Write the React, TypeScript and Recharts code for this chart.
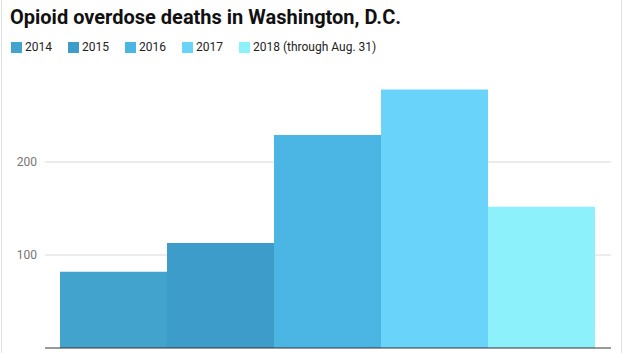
import React from 'react';
import { BarChart, Bar, XAxis, YAxis, CartesianGrid, Legend, ReferenceLine } from 'recharts';

const title = 'Opioid overdose deaths in Washington, D.C.';
const seriesNames = ['2014', '2015', '2016', '2017', '2018 (through Aug. 31)'];
const seriesKeys = ['y2014', 'y2015', 'y2016', 'y2017', 'y2018'];
const deaths = [82, 113, 229, 278, 152];
const colors = ['#42A3CD', '#3D9CC9', '#4BB6E3', '#69D3FA', '#8DF1FC'];
const yTicks = [100, 200];
const yDomain = [0, 300];

const row: Record<string, number | string> = { name: 'Deaths' };
seriesKeys.forEach((k, i) => {
  row[k] = deaths[i];
});
const data = [row];

const renderLegend = () => (
  <div
    style={{
      display: 'flex',
      height: 20,
      alignItems: 'center',
      fontFamily: 'Roboto, sans-serif',
      fontSize: 12,
      color: '#222',
      whiteSpace: 'nowrap',
    }}
  >
    {seriesNames.map((n, i) => (
      <div key={n} style={{ display: 'flex', alignItems: 'center', marginRight: 16 }}>
        <span
          style={{ width: 11, height: 11, background: colors[i], marginRight: 3, display: 'inline-block' }}
        />
        <span>{n}</span>
      </div>
    ))}
  </div>
);

export default function App() {
  return (
    <div
      style={{
        position: 'absolute',
        left: 0,
        top: 0,
        width: 628,
        height: 353,
        background: '#fff',
        overflow: 'hidden',
      }}
    >
      <div style={{ position: 'absolute', left: 1, top: 0, width: 1, height: 353, background: '#e3e3e3' }} />
      <div style={{ position: 'absolute', left: 621, top: 0, width: 1, height: 353, background: '#e3e3e3' }} />
      <div
        style={{
          position: 'absolute',
          left: 10,
          top: 5,
          fontFamily: 'Roboto, sans-serif',
          fontWeight: 700,
          fontSize: 20,
          color: '#111',
          whiteSpace: 'nowrap',
        }}
      >
        {title}
      </div>
      <BarChart
        width={628}
        height={353}
        data={data}
        margin={{ top: 49, right: 17, bottom: 5, left: 0 }}
        barCategoryGap={15}
        barGap={0}
      >
        <Legend
          verticalAlign="top"
          align="left"
          content={renderLegend}
          wrapperStyle={{ top: 37, left: 11, width: 'auto' }}
        />
        <CartesianGrid
          vertical={false}
          stroke="#d9d9d9"
          horizontalValues={yTicks}
        />
        <XAxis dataKey="name" hide />
        <YAxis
          width={45}
          domain={yDomain}
          ticks={yTicks}
          axisLine={false}
          tickLine={false}
          tickSize={0}
          tickMargin={8}
          tick={{ fill: '#757575', fontSize: 12, fontFamily: 'Roboto, sans-serif' }}
        />
        {seriesKeys.map((k, i) => (
          <Bar key={k} dataKey={k} name={seriesNames[i]} fill={colors[i]} isAnimationActive={false} />
        ))}
        <ReferenceLine y={0} stroke="#333" />
      </BarChart>
    </div>
  );
}
